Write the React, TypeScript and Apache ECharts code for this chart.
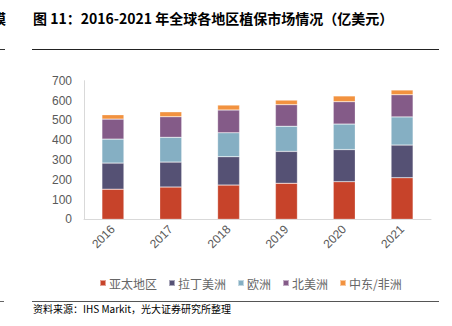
import React, { useEffect, useRef } from "react";
import * as echarts from "echarts";

const years = ["2016", "2017", "2018", "2019", "2020", "2021"];
const seriesNames = ["亚太地区", "拉丁美洲", "欧洲", "北美洲", "中东/非洲"];
const asiaPacific = [152, 163, 173, 182, 190, 210];
const latinAmerica = [132, 126, 143, 161, 162, 165];
const europe = [121, 125, 121, 127, 129, 142];
const northAmerica = [101, 104, 115, 109, 113, 112];
const middleEastAfrica = [22, 25, 25, 23, 29, 24];
const yTicks = { min: 0, max: 700, interval: 100 };
const colors = ["#C7432A", "#555174", "#85AFC3", "#845B88", "#F2923F"];

const titleText = "图 11：2016-2021 年全球各地区植保市场情况（亿美元）";
const sourceText = "资料来源：IHS Markit，光大证券研究所整理";

export default function App() {
  const ref = useRef<HTMLDivElement>(null);
  useEffect(() => {
    if (!ref.current) return;
    const chart = echarts.init(ref.current, undefined, { renderer: "svg" });
    const values = [asiaPacific, latinAmerica, europe, northAmerica, middleEastAfrica];
    const cjk = "'Noto Sans CJK SC', 'Noto Sans', sans-serif";
    chart.setOption({
      animation: false,
      color: colors,
      grid: { left: 84, right: 21, top: 80.7, bottom: 106.7, containLabel: false },
      legend: {
        left: 94,
        top: 272,
        itemWidth: 6,
        itemHeight: 6,
        itemGap: 11,
        icon: "rect",
        textStyle: { fontSize: 12, color: "#666", fontFamily: cjk, padding: [0, 0, 0, -2] },
        data: seriesNames,
      },
      xAxis: {
        type: "category",
        data: years,
        axisLine: { lineStyle: { color: "#D9D9D9", width: 1 } },
        axisTick: { inside: true, length: 4, lineStyle: { color: "#D9D9D9" } },
        axisLabel: {
          rotate: 45,
          fontSize: 12,
          color: "#595959",
          fontFamily: "'Liberation Sans', Arial, sans-serif",
          margin: 8,
        },
      },
      yAxis: {
        type: "value",
        min: yTicks.min,
        max: yTicks.max,
        interval: yTicks.interval,
        splitLine: { show: false },
        axisLine: { show: true, lineStyle: { color: "#D9D9D9" } },
        axisTick: { show: false },
        axisLabel: {
          fontSize: 12,
          color: "#595959",
          fontFamily: "'Liberation Sans', Arial, sans-serif",
          margin: 12,
        },
      },
      series: seriesNames.map((name, i) => ({
        name,
        type: "bar",
        stack: "total",
        barWidth: 22,
        data: values[i],
        itemStyle: { color: colors[i], borderColor: "rgba(255,255,255,0.5)", borderWidth: 0.5 },
      })),
      graphic: [
        {
          type: "text",
          left: -8,
          top: 11,
          style: { text: "模", font: `bold 14px ${cjk}`, fill: "#000" },
        },
        {
          type: "text",
          left: 33,
          top: 11,
          style: { text: titleText, font: `bold 14px ${cjk}`, fill: "#000" },
        },
        { type: "line", shape: { x1: 0, y1: 49.5, x2: 5, y2: 49.5 }, style: { stroke: "#333", lineWidth: 1 } },
        { type: "line", shape: { x1: 32, y1: 49.5, x2: 439, y2: 49.5 }, style: { stroke: "#222", lineWidth: 1 } },
        { type: "line", shape: { x1: 0, y1: 301.5, x2: 4, y2: 301.5 }, style: { stroke: "#666", lineWidth: 1 } },
        { type: "line", shape: { x1: 32, y1: 301.5, x2: 439, y2: 301.5 }, style: { stroke: "#555", lineWidth: 1 } },
        {
          type: "text",
          left: 33,
          top: 303,
          style: { text: sourceText, font: `10px ${cjk}`, fill: "#000" },
        },
      ],
    });
    return () => chart.dispose();
  }, []);
  return (
    <div
      ref={ref}
      style={{ position: "fixed", left: 0, top: 0, width: 452, height: 326, background: "#fff" }}
    />
  );
}
